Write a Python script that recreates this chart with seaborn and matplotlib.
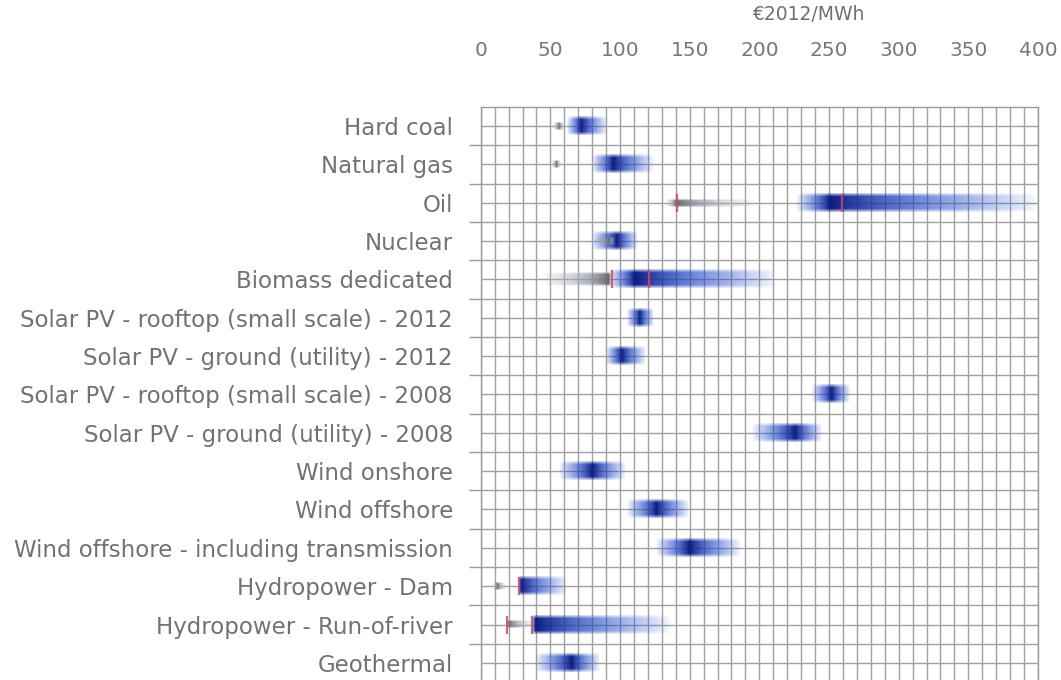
import numpy as np
import matplotlib
matplotlib.use("Agg")
import matplotlib.pyplot as plt
from matplotlib.ticker import MultipleLocator, FixedLocator
import seaborn as sns

# technologies, top to bottom
techs = ["Hard coal", "Natural gas", "Oil", "Nuclear", "Biomass dedicated",
         "Solar PV - rooftop (small scale) - 2012", "Solar PV - ground (utility) - 2012",
         "Solar PV - rooftop (small scale) - 2008", "Solar PV - ground (utility) - 2008",
         "Wind onshore", "Wind offshore", "Wind offshore - including transmission",
         "Hydropower - Dam", "Hydropower - Run-of-river", "Geothermal"]

# blue range: low end, darkest point, high end (EUR2012/MWh)
blue_low = [62, 80, 226, 80, 92, 105, 90, 238, 195, 56, 105, 126, 27, 36, 39]
blue_peak = [72, 95, 250, 98, 110, 114, 101, 252, 226, 80, 126, 150, 29, 39, 65]
blue_high = [90, 124, 400, 113, 212, 124, 118, 265, 245, 104, 149, 187, 62, 137, 85]

# grey range (only some rows)
grey_rows = [0, 1, 2, 3, 4, 12, 13]
grey_low = [52, 51, 133, 80, 44, 9, 18]
grey_peak = [56, 54, 140, 92, 92, 12, 20]
grey_high = [60, 57, 197, 96, 94, 18, 37]

# red median marks
red_rows = [2, 2, 4, 4, 12, 13, 13]
red_x = [141, 259, 94, 121, 27.5, 19, 37]

ticks = [0, 50, 100, 150, 200, 250, 300, 350, 400]

sns.set_theme(style="white")
plt.rcParams['font.family'] = ['DejaVu Sans']

fig = plt.figure(figsize=(10.61, 6.80), dpi=100)
ax = fig.add_axes([0.4531, -0.003, 0.5252, 0.8459])


def gradient(ax, y, lo, pk, hi, h, navy, mid, n=400):
    xs = np.linspace(lo, hi, n)
    t = np.where(xs <= pk, 1 - (pk - xs) / max(pk - lo, 1e-6),
                 1 - (xs - pk) / max(hi - pk, 1e-6))
    t = np.clip(t, 0, 1)
    vy = np.linspace(-1, 1, 13)
    vprof = np.clip(1.3 - np.abs(vy) ** 3, 0, 1)
    img = np.zeros((len(vy), n, 4))
    for c in range(3):
        img[:, :, c] = mid[c] + (navy[c] - mid[c]) * t ** 3
    img[:, :, 3] = (t ** 0.8)[None, :] * vprof[:, None]
    ax.imshow(img, extent=(lo, hi, y + h / 2, y - h / 2), aspect="auto",
              interpolation="bilinear", zorder=3)


navy = (0.05, 0.11, 0.50)
mid = (0.16, 0.32, 0.82)
for i in range(len(techs)):
    gradient(ax, i, blue_low[i], blue_peak[i], blue_high[i], 0.47, navy, mid)

for j, r in enumerate(grey_rows):
    h = 0.34 if r == 4 else 0.2
    gradient(ax, r, grey_low[j], grey_peak[j], grey_high[j], h,
             (0.40, 0.40, 0.43), (0.68, 0.70, 0.76))

sns.scatterplot(x=red_x, y=red_rows, marker="|", s=150, color="#cc4a62",
                linewidth=1.6, alpha=0.85, ax=ax, zorder=4, legend=False)

ax.set_xlim(0, 400)
ax.set_ylim(14.5, -0.5)

ax.xaxis.set_major_locator(FixedLocator(ticks))
ax.xaxis.set_minor_locator(MultipleLocator(10))
ax.xaxis.tick_top()
ax.set_xticklabels([str(t) for t in ticks])
ax.set_yticks(range(len(techs)))
ax.set_yticklabels(techs)
ax.yaxis.set_minor_locator(FixedLocator(np.arange(0.5, 14.5, 1)))

ax.tick_params(axis="x", which="both", length=0, pad=33.5, labelsize=14.5, labelcolor="#787878")
ax.tick_params(axis="y", which="major", length=0, pad=20, labelsize=16.5, labelcolor="#727272")
ax.tick_params(axis="y", which="minor", left=True, length=9, width=1, color="#9a9a9a")

ax.grid(which="both", color="#a0a0a0", linewidth=1.0, zorder=0)
ax.set_axisbelow(True)
for s in ax.spines.values():
    s.set_color("#9a9a9a")
    s.set_linewidth(1.0)
ax.set_xlabel("")
ax.set_ylabel("")

fig.text(0.762, 0.978, "€2012/MWh", ha="center", va="center", fontsize=13.5, color="#707070")

fig.savefig("out.png", dpi=100)
